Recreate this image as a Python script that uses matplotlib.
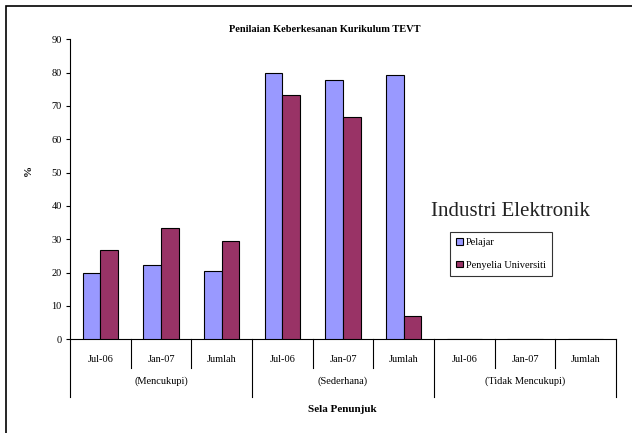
import matplotlib
matplotlib.use("Agg")
import matplotlib.pyplot as plt
from matplotlib.patches import Rectangle
import numpy as np

plt.rcParams['font.family'] = ['Liberation Serif', 'DejaVu Serif']

categories = ["Jul-06", "Jan-07", "Jumlah"] * 3
groups = ["(Mencukupi)", "(Sederhana)", "(Tidak Mencukupi)"]
pelajar = [20.0, 22.2, 20.6, 80.0, 77.8, 79.4, 0, 0, 0]
penyelia = [26.7, 33.3, 29.4, 73.3, 66.7, 7.1, 0, 0, 0]
yticks = [0, 10, 20, 30, 40, 50, 60, 70, 80, 90]

W, H = 632, 433
fig = plt.figure(figsize=(W / 100, H / 100), dpi=100)

ax_l, ax_r, ax_b, ax_t = 70, 616, 339.3, 39.3
ax = fig.add_axes([ax_l / W, 1 - ax_b / H, (ax_r - ax_l) / W, (ax_b - ax_t) / H])
axh = ax_b - ax_t

n = len(categories)
x = np.arange(n) + 0.5
bw = 0.29
ax.bar(x - bw / 2, pelajar, bw, color="#9999FF", edgecolor="black", linewidth=0.8, label="Pelajar", zorder=3)
ax.bar(x + bw / 2, penyelia, bw, color="#993366", edgecolor="black", linewidth=0.8, label="Penyelia Universiti", zorder=3)

ax.set_xlim(0, n)
ax.set_ylim(0, 90)
ax.set_yticks(yticks)
ax.set_yticklabels([str(v) for v in yticks], fontsize=7.5)
ax.tick_params(axis='y', direction='out', length=3, width=0.8, pad=3)
ax.set_xticks([])
for s in ['top', 'right']:
    ax.spines[s].set_visible(False)
ax.spines['left'].set_linewidth(0.8)
ax.spines['bottom'].set_linewidth(0.8)

tr = ax.get_xaxis_transform()
inner_y = -(368 - ax_b) / axh
outer_y = -(397 - ax_b) / axh
for i in range(n + 1):
    yb = outer_y if i % 3 == 0 else inner_y
    ax.plot([i, i], [0, yb], color="black", lw=0.8, transform=tr, clip_on=False)

cat_y = -(360 - ax_b) / axh
grp_y = -(381 - ax_b) / axh
for i, c in enumerate(categories):
    ax.text(i + 0.5, cat_y, c, transform=tr, ha='center', va='center', fontsize=7.5)
for g, name in enumerate(groups):
    ax.text(g * 3 + 1.5, grp_y, name, transform=tr, ha='center', va='center', fontsize=7.5)

fig.text(325 / W, 1 - 29 / H, "Penilaian Keberkesanan Kurikulum TEVT", ha='center', va='center',
         fontsize=7.5, fontweight='bold')
fig.text(342 / W, 1 - 410 / H, "Sela Penunjuk", ha='center', va='center', fontsize=8, fontweight='bold')
fig.text(28 / W, 1 - 170 / H, "%", ha='center', va='center', fontsize=8, fontweight='bold', rotation=90)
fig.text(510 / W, 1 - 212 / H, "Industri Elektronik", ha='center', va='center', fontsize=15, color="#222222")

leg = fig.legend(loc='upper left', bbox_to_anchor=(450 / W, 1 - 232 / H), fontsize=7.5,
                 frameon=True, fancybox=False, edgecolor='black', handlelength=0.6, handleheight=0.6,
                 handletextpad=0.3, borderpad=0.6, labelspacing=1.3, borderaxespad=0)
leg.get_frame().set_linewidth(0.8)

fig.patches.append(Rectangle((6 / W, -0.1), 1.2, 1 - 6 / H + 0.1, transform=fig.transFigure,
                             fill=False, edgecolor='black', linewidth=1.2))

fig.savefig("out.png", dpi=100)
